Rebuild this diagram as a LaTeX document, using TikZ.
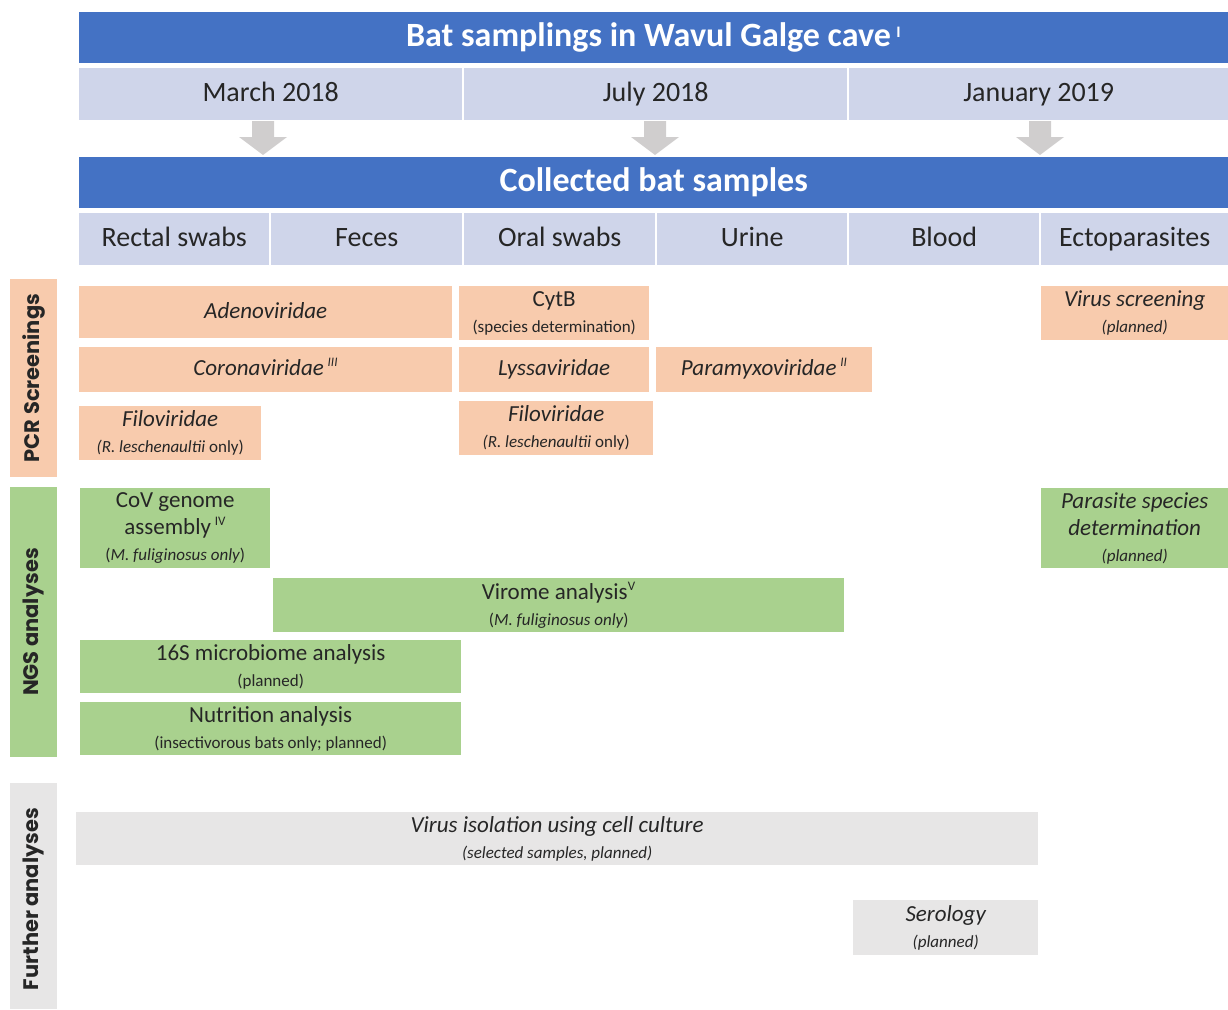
\documentclass[tikz,border=0pt]{standalone}
\usepackage{fontspec}
\setmainfont{Carlito}
\newfontfamily\sidefont{Poppins}
\usetikzlibrary{calc}
\definecolor{barblue}{HTML}{4472C4}
\definecolor{rowlav}{HTML}{CFD5EA}
\definecolor{pcr}{HTML}{F8CBAD}
\definecolor{ngs}{HTML}{A9D18E}
\definecolor{furth}{HTML}{E7E6E6}
\definecolor{txt}{HTML}{262626}
\definecolor{arrowgray}{HTML}{D0CECE}
\newcommand\fsz[2]{\fontsize{#1}{#2}\selectfont}
\newcommand\subt[1]{\\[-1pt]{\fsz{17}{19}#1}}
\begin{document}
\begin{tikzpicture}[x=1pt,y=-1pt,
  bx/.style={anchor=north west, inner sep=0pt, align=center, text=txt, font=\fsz{23}{27}},
  bar/.style={bx, fill=barblue, text=white, font=\fsz{34}{36}\bfseries, text height=24pt, text depth=6pt},
  cell/.style={bx, fill=rowlav, font=\fsz{28}{32}, text height=20pt, text depth=6pt},
  one/.style={text height=17pt, text depth=5pt},
  pcrbox/.style={bx, fill=pcr},
  ngsbox/.style={bx, fill=ngs},
  furbox/.style={bx, fill=furth},
  side/.style={inner sep=0pt, rotate=90, text=txt, font=\sidefont\fsz{21}{24}\bfseries},
  grayarrow/.style={fill=arrowgray}
]
\useasboundingbox (0,0) rectangle (1228,1009);
% top bars
\node[bar, minimum width=1149, minimum height=51] (title) at (79,12) {Bat samplings in Wavul Galge cave\,\textsuperscript{\fsz{16}{16}I}};
\node[cell, minimum width=383, minimum height=52] (m1) at (79,68) {March 2018};
\node[cell, minimum width=383, minimum height=52] (m2) at (464,68) {July 2018};
\node[cell, minimum width=379, minimum height=52] (m3) at (849,68) {January 2019};
\node[bar, minimum width=1149, minimum height=51] (coll) at (79,157) {Collected bat samples};
\node[cell, minimum width=190, minimum height=52] (s1) at (79,213) {Rectal swabs};
\node[cell, minimum width=191, minimum height=52] (s2) at (271,213) {Feces};
\node[cell, minimum width=191, minimum height=52] (s3) at (464,213) {Oral swabs};
\node[cell, minimum width=190, minimum height=52] (s4) at (657,213) {Urine};
\node[cell, minimum width=190, minimum height=52] (s5) at (849,213) {Blood};
\node[cell, minimum width=187, minimum height=52] (s6) at (1041,213) {Ectoparasites};
% arrows
\foreach \a/\xx in {m1/263, m2/655, m3/1040}{
  \fill[grayarrow] (\xx-11,121) -- (\xx+11,121) -- (\xx+11,137) -- (\xx+24,137) -- (\xx,155) -- (\xx-24,137) -- (\xx-11,137) -- cycle;
}
% side labels
\fill[pcr] (10,279) rectangle (57,477);
\node[side] (lpcr) at (34,378) {PCR Screenings};
\fill[ngs] (10,487) rectangle (57,757);
\node[side] (lngs) at (34,622) {NGS analyses};
\fill[furth] (10,783) rectangle (57,1009);
\node[side] (lfur) at (34,899) {Further analyses};
% PCR boxes
\node[pcrbox, one, minimum width=373, minimum height=52] (adeno) at (79,286) {\itshape Adenoviridae};
\node[pcrbox, minimum width=190, minimum height=54] (cytb) at (459,286) {CytB\subt{(species determination)}};
\node[pcrbox, minimum width=187, minimum height=54] (vscr) at (1041,286) {\itshape Virus screening\subt{\itshape (planned)}};
\node[pcrbox, one, minimum width=373, minimum height=45] (corona) at (79,347) {\itshape Coronaviridae\,\textsuperscript{\fsz{13}{13}III}};
\node[pcrbox, one, minimum width=190, minimum height=45] (lyssa) at (459,347) {\itshape Lyssaviridae};
\node[pcrbox, one, minimum width=216, minimum height=45] (paramyxo) at (656,347) {\itshape Paramyxoviridae\,\textsuperscript{\fsz{13}{13}II}};
\node[pcrbox, minimum width=182, minimum height=54] (filo1) at (79,406) {\itshape Filoviridae\subt{\itshape (R. leschenaultii \upshape only)}};
\node[pcrbox, minimum width=194, minimum height=54] (filo2) at (459,401) {\itshape Filoviridae\subt{\itshape (R. leschenaultii \upshape only)}};
% NGS boxes
\node[ngsbox, minimum width=190, minimum height=80] (cov) at (80,488) {CoV genome\\assembly\,\textsuperscript{\fsz{13}{13}IV}\subt{(\itshape M. fuliginosus only\upshape)}};
\node[ngsbox, minimum width=187, minimum height=80] (parasite) at (1041,488) {\itshape Parasite species\\\itshape determination\subt{\itshape (planned)}};
\node[ngsbox, minimum width=571, minimum height=54] (virome) at (273,578) {Virome analysis\textsuperscript{\fsz{13}{13}V}\subt{(\itshape M. fuliginosus only\upshape)}};
\node[ngsbox, minimum width=381, minimum height=53] (micro) at (80,640) {16S microbiome analysis\subt{(planned)}};
\node[ngsbox, minimum width=381, minimum height=53] (nutri) at (80,702) {Nutrition analysis\subt{(insectivorous bats only; planned)}};
% further
\node[furbox, minimum width=962, minimum height=53] (iso) at (76,812) {\itshape Virus isolation using cell culture\subt{\itshape (selected samples, planned)}};
\node[furbox, minimum width=185, minimum height=55] (sero) at (853,900) {\itshape Serology\subt{\itshape (planned)}};
\end{tikzpicture}
\end{document}
